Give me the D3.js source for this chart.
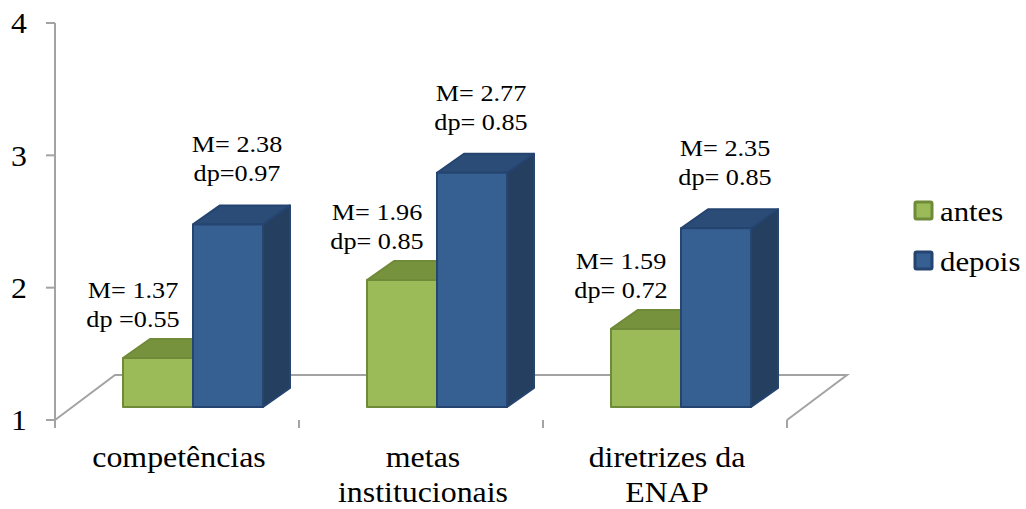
<!DOCTYPE html>
<html>
<head>
<meta charset="utf-8">
<script src="https://cdn.jsdelivr.net/npm/d3@7"></script>
<style>
  html, body { margin: 0; padding: 0; background: #ffffff; }
  svg { display: block; }
  text { font-family: "Liberation Serif", "Times New Roman", serif; fill: #000; }
</style>
</head>
<body>
<svg id="chart" width="1026" height="509"></svg>
<script>
// Chart data
const categories = [["competências"], ["metas", "institucionais"], ["diretrizes da", "ENAP"]];
const seriesNames = ["antes", "depois"];
const antesMean = [1.37, 1.96, 1.59];
const depoisMean = [2.38, 2.77, 2.35];
const antesSd = [0.55, 0.85, 0.72];
const depoisSd = [0.97, 0.85, 0.85];
const antesSdPrefix = ["dp =", "dp= ", "dp= "];
const depoisSdPrefix = ["dp=", "dp= ", "dp= "];
const yTicks = [1, 2, 3, 4];

// Layout
const svg = d3.select("#chart");
const axisColor = "#a3a3a3";
const floorDepth = { dx: 60, dy: -45 };
const barDepth = { dx: 27, dy: -19 };
const barInset = 13;              // bars sit slightly back on the floor

const y = d3.scaleLinear().domain([1, 4]).range([420, 23]);
const x0 = d3.scaleBand().domain(d3.range(categories.length)).range([55, 787]).paddingInner(0).paddingOuter(0);
const x1 = d3.scaleBand().domain(seriesNames).range([68, 208]);

const colors = {
  antes:  { front: "#9bbb59", top: "#76923c", side: "#6a8535", stroke: "#6f8a38" },
  depois: { front: "#376092", top: "#2b4c77", side: "#243f60", stroke: "#254470" }
};

function stretchedText(g, x, yy, str, size, stretch, anchor) {
  return g.append("text")
    .attr("transform", `translate(${x},${yy}) scale(${stretch},1)`)
    .attr("text-anchor", anchor || "middle")
    .attr("dominant-baseline", "central")
    .style("font-size", size + "px")
    .text(str);
}

// Floor outline (drawn first, so bars cover its back edge)
const floor = svg.append("g");
const fx0 = x0.range()[0], fx1 = x0.range()[1], fy = y(1);
floor.append("path")
  .attr("d", `M${fx0},${fy} L${fx0 + floorDepth.dx},${fy + floorDepth.dy} L${fx1 + floorDepth.dx},${fy + floorDepth.dy} L${fx1},${fy}`)
  .attr("fill", "none").attr("stroke", axisColor).attr("stroke-width", 2);

// Bars
const bars = svg.append("g");
const rows = categories.map((c, i) => [
  { key: "antes", i, v: antesMean[i], sd: antesSd[i], pre: antesSdPrefix[i] },
  { key: "depois", i, v: depoisMean[i], sd: depoisSd[i], pre: depoisSdPrefix[i] }
]);

rows.forEach(pair => {
  pair.forEach(d => {
    const c = colors[d.key];
    const xl = x0(d.i) + x1(d.key);
    const xr = xl + x1.bandwidth();
    const yb = y(1) - barInset;
    const yt = y(d.v) - barInset;
    const dx = barDepth.dx, dy = barDepth.dy;
    const g = bars.append("g").attr("stroke", c.stroke).attr("stroke-width", 2).attr("stroke-linejoin", "round");
    // right side
    g.append("path")
      .attr("d", `M${xr},${yb} L${xr + dx},${yb + dy} L${xr + dx},${yt + dy} L${xr},${yt} Z`)
      .attr("fill", c.side);
    // top
    g.append("path")
      .attr("d", `M${xl},${yt} L${xl + dx},${yt + dy} L${xr + dx},${yt + dy} L${xr},${yt} Z`)
      .attr("fill", c.top);
    // front
    g.append("rect")
      .attr("x", xl).attr("y", yt)
      .attr("width", xr - xl).attr("height", yb - yt)
      .attr("fill", c.front);
  });
});

// Value labels
const labels = svg.append("g");
const labelShift = { antes: { dx: -25, gap: 20 }, depois: { dx: 9, gap: 32 } };
rows.forEach(pair => {
  pair.forEach(d => {
    const s = labelShift[d.key];
    const cx = x0(d.i) + x1(d.key) + x1.bandwidth() / 2 + s.dx;
    const backTop = y(d.v) - barInset + barDepth.dy;
    const yDp = backTop - s.gap;
    stretchedText(labels, cx, yDp - 29, "M= " + d3.format(".2f")(d.v), 23, 1.14);
    stretchedText(labels, cx, yDp, d.pre + d3.format(".2f")(d.sd), 23, 1.14);
  });
});

// Y axis
const yAxis = svg.append("g");
yAxis.append("line")
  .attr("x1", 55).attr("x2", 55).attr("y1", y(4)).attr("y2", y(1))
  .attr("stroke", axisColor).attr("stroke-width", 2);
yTicks.forEach(t => {
  yAxis.append("line")
    .attr("x1", 46).attr("x2", 55).attr("y1", y(t)).attr("y2", y(t))
    .attr("stroke", axisColor).attr("stroke-width", 2);
  stretchedText(yAxis, 27, y(t), String(t), 30, 1.06, "end");
});

// X axis ticks and category labels
const xAxis = svg.append("g");
d3.range(categories.length + 1).forEach(k => {
  const xx = k < categories.length ? x0(k) : x0.range()[1];
  xAxis.append("line")
    .attr("x1", xx).attr("x2", xx).attr("y1", y(1)).attr("y2", y(1) + 8)
    .attr("stroke", axisColor).attr("stroke-width", 2);
});
categories.forEach((lines, i) => {
  const cx = x0(i) + x0.bandwidth() / 2 + 2;
  lines.forEach((ln, j) => {
    stretchedText(xAxis, cx, 457 + j * 35, ln, 29, 1.1);
  });
});

// Legend
const legend = svg.append("g");
seriesNames.forEach((s, k) => {
  const ly = 211 + k * 50;
  legend.append("rect")
    .attr("x", 915).attr("y", ly - 9).attr("width", 17).attr("height", 17)
    .attr("fill", colors[s].front).attr("stroke", colors[s].stroke).attr("stroke-width", 3).attr("rx", 1.5);
  stretchedText(legend, 940, ly, s, 28, 1.1, "start");
});
</script>
</body>
</html>
